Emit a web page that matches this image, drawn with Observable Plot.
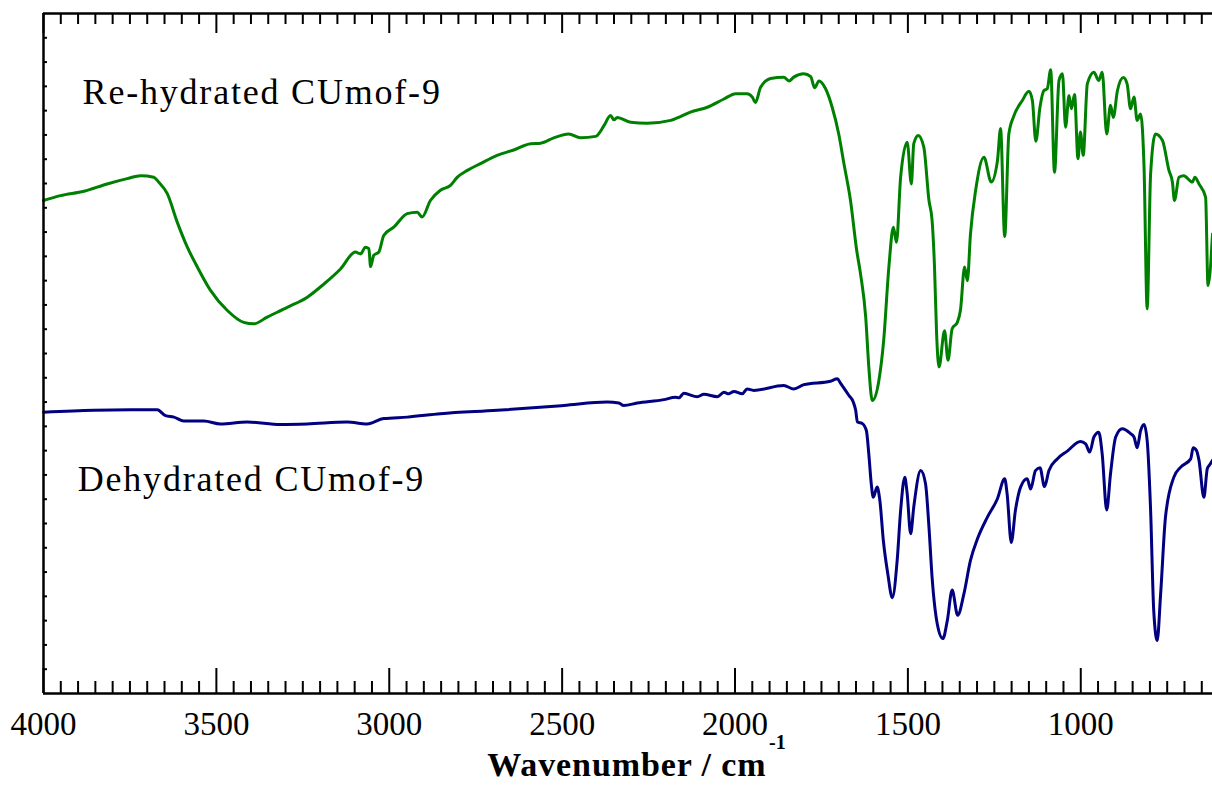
<!DOCTYPE html>
<html>
<head>
<meta charset="utf-8">
<script src="https://cdn.jsdelivr.net/npm/d3@7"></script>
<script src="https://cdn.jsdelivr.net/npm/@observablehq/plot@0.6"></script>
<style>
  html, body { margin: 0; padding: 0; background: #fff; }
  #chart { width: 1212px; height: 785px; overflow: hidden; }
</style>
</head>
<body>
<div id="chart"></div>
<script>
// Re-hydrated CUmof-9 (green)
const wnRehydrated = [4000,3951,3883,3816,3758,3719,3681,3667,3642,3613,3584,3555,3517,3469,3421,3392,3353,3295,3237,3189,3141,3098,3083,3069,3059,3054,3045,3030,3016,2987,2948,2919,2905,2881,2852,2823,2803,2774,2736,2688,2640,2591,2562,2524,2481,2447,2403,2379,2360,2350,2341,2302,2254,2186,2167,2129,2080,2032,1998,1965,1950,1941,1926,1897,1859,1844,1830,1801,1781,1770,1757,1738,1719,1700,1685,1666,1648,1637,1622,1613,1603,1584,1570,1555,1542,1533,1521,1502,1490,1483,1470,1454,1439,1430,1423,1417,1410,1394,1384,1372,1357,1348,1336,1328,1319,1304,1280,1259,1241,1232,1220,1208,1193,1169,1150,1140,1130,1118,1107,1097,1087,1076,1063,1053,1044,1034,1027,1018,1008,1001,993,981,962,948,938,925,914,906,894,877,866,856,846,837,827,817,808,798,784,764,745,735,729,716,702,677,670,658,639,632,619];
const tRehydrated = [101.5,102.5,103.4,104.9,106.0,106.6,106.3,105.3,102.9,97.0,91.9,87.8,83.0,78.9,76.4,76.1,77.5,79.5,81.6,84.3,87.4,90.9,90.5,91.9,91.6,87.9,90.2,90.9,94.3,96.0,98.8,99.1,98.1,101.5,103.6,104.6,106.3,107.7,109.1,110.8,111.9,113.2,113.3,114.4,115.2,114.4,114.7,116.9,119.0,118.1,118.6,117.6,117.4,118.0,118.5,119.7,120.7,122.4,123.5,123.5,122.8,121.7,124.8,126.6,126.9,126.1,126.9,127.6,127.0,124.7,126.1,124.5,120.7,115.2,109.1,101.5,91.2,86.4,77.5,67.2,60.3,64.4,72.7,87.8,96.0,92.9,106.3,113.5,104.9,113.2,114.9,112.5,101.5,97.4,87.8,74.1,67.2,74.7,68.6,75.1,76.4,78.9,87.8,85.0,94.6,103.6,110.4,105.3,109.7,116.3,94.1,115.2,119.0,122.1,124.0,122.1,113.7,120.7,124.1,124.5,128.4,107.3,126.2,127.6,116.6,123.1,120.4,123.3,110.1,115.6,110.8,125.5,127.9,126.2,127.9,115.2,121.1,118.6,124.1,126.8,125.5,120.4,122.8,118.0,119.3,108.4,79.2,107.0,115.2,113.9,107.7,105.3,101.5,106.3,106.6,105.3,106.3,104.9,102.2,84.0,94.6];

// Dehydrated CUmof-9 (blue)
const wnDehydrated = [4000,3855,3748,3671,3647,3623,3594,3536,3488,3411,3314,3237,3122,3064,3016,2948,2852,2688,2495,2370,2336,2322,2283,2206,2172,2162,2148,2109,2090,2051,2032,2018,2003,1979,1965,1946,1859,1830,1801,1724,1704,1695,1671,1658,1651,1646,1632,1620,1613,1606,1600,1589,1581,1571,1558,1545,1531,1521,1509,1502,1492,1483,1463,1449,1439,1430,1415,1399,1386,1372,1356,1338,1319,1299,1270,1241,1220,1213,1201,1189,1174,1155,1145,1131,1118,1105,1092,1068,1039,1001,986,974,962,948,938,925,914,899,880,856,846,837,827,817,808,798,789,779,769,755,731,711,682,675,665,658,644,634,627,619];
const tDehydrated = [57.9,58.3,58.4,58.4,57.2,56.9,56.1,56.1,55.5,55.9,55.4,55.5,55.9,55.5,56.6,56.9,57.6,58.3,59.3,60.0,59.8,59.3,59.8,60.5,61.0,60.9,61.8,61.1,61.6,61.1,62.0,61.7,62.2,61.7,62.7,62.4,63.4,62.7,63.6,64.3,64.8,63.9,61.4,60.0,58.3,55.9,55.6,54.1,49.3,43.2,40.4,42.5,39.7,31.5,24.6,19.7,27.4,37.7,44.5,41.1,32.9,38.4,45.9,43.2,34.2,23.9,14.3,11.3,15.0,21.3,16.1,20.5,27.4,31.8,36.3,40.1,44.2,41.1,31.1,37.7,42.5,44.2,42.1,45.9,46.5,42.6,45.9,48.3,49.9,51.9,51.4,49.7,52.8,53.8,49.3,37.8,45.2,52.8,54.5,53.5,52.8,50.6,54.1,55.4,52.1,37.7,17.1,10.9,20.5,36.3,44.5,46.6,48.3,50.6,50.0,48.0,40.4,46.3,47.1,48.0];

// Axis ticks
const xMajorTicks = [4000, 3500, 3000, 2500, 2000, 1500, 1000];
const xMinorTicks = d3.range(4000, 640, -50).filter(d => d % 500 !== 0);
const yTicks = d3.range(5, 140, 5);

// Series labels
const labelText = ["Re-hydrated CUmof-9", "Dehydrated CUmof-9"];
const labelWn = [3887, 3901];
const labelT = [123.8, 44.0];

const axisTitle = "Wavenumber / cm";
const axisTitleSup = "-1";

const green = wnRehydrated.map((wn, i) => ({wn, t: tRehydrated[i]}));
const blue = wnDehydrated.map((wn, i) => ({wn, t: tDehydrated[i]}));
const labels = labelText.map((text, i) => ({text, wn: labelWn[i], t: labelT[i]}));

const serif = "'Liberation Serif', 'Times New Roman', serif";

const chart = Plot.plot({
  width: 1212,
  height: 785,
  marginTop: 13,
  marginBottom: 92,
  marginLeft: 43,
  marginRight: 0,
  x: {domain: [4000, 619], axis: null},
  y: {domain: [0, 140], axis: null},
  style: {background: "#fff", overflow: "hidden"},
  marks: [
    Plot.line(green, {x: "wn", y: "t", stroke: "#008000", strokeWidth: 3, curve: "monotone-x"}),
    Plot.line(blue, {x: "wn", y: "t", stroke: "#000080", strokeWidth: 3, curve: "monotone-x"}),
    // axis frame lines
    Plot.ruleY([0, 140], {stroke: "#000", strokeWidth: 2.5}),
    Plot.ruleX([4000], {stroke: "#000", strokeWidth: 2.5}),
    // inward ticks
    Plot.tickX(xMajorTicks, {x: d => d, insetTop: 655, stroke: "#000", strokeWidth: 2}),
    Plot.tickX(xMinorTicks, {x: d => d, insetTop: 668, stroke: "#000", strokeWidth: 2}),
    Plot.tickX(xMajorTicks, {x: d => d, insetBottom: 660, stroke: "#000", strokeWidth: 2}),
    Plot.tickX(xMinorTicks, {x: d => d, insetBottom: 669, stroke: "#000", strokeWidth: 2}),
    Plot.tickY(yTicks, {y: d => d, insetRight: 1165, stroke: "#000", strokeWidth: 2}),
    // tick labels
    Plot.axisX({anchor: "bottom", ticks: xMajorTicks, tickSize: 0, tickPadding: 18, label: null,
      fontSize: 33, fontFamily: serif, tickFormat: d => String(d), fill: "#000"}),
    // series labels
    Plot.text(labels, {x: "wn", y: "t", text: "text", textAnchor: "start", lineAnchor: "middle",
      fontSize: 36, fontFamily: serif, fill: "#000"}),
    // axis title
    Plot.text([axisTitle], {frameAnchor: "bottom", textAnchor: "end", lineAnchor: "middle",
      dx: 138.5, dy: 72, fontSize: 34, fontWeight: "bold", fontFamily: serif, fill: "#000"}),
    Plot.text([axisTitleSup], {frameAnchor: "bottom", textAnchor: "start", lineAnchor: "middle",
      dx: 141, dy: 49, fontSize: 20, fontWeight: "bold", fontFamily: serif, fill: "#000"})
  ]
});

d3.select(chart).selectAll("text")
  .filter(function() { return labelText.includes(this.textContent); })
  .style("letter-spacing", "1.8px");
d3.select(chart).selectAll("text")
  .filter(function() { return this.textContent === axisTitle; })
  .style("letter-spacing", "0.9px");
document.getElementById("chart").appendChild(chart);
</script>
</body>
</html>
